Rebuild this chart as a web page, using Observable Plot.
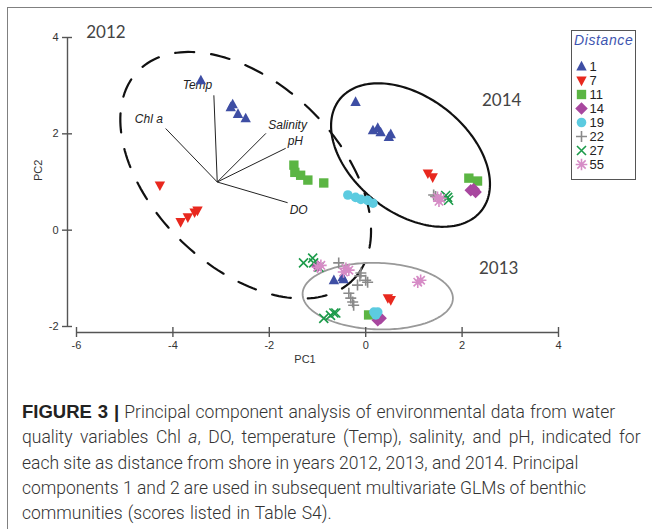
<!DOCTYPE html>
<html><head><meta charset="utf-8">
<script src="https://cdn.jsdelivr.net/npm/d3@7"></script>
<script src="https://cdn.jsdelivr.net/npm/@observablehq/plot@0.6"></script>
<style>
body{margin:0;background:#fff;}
#wrap{position:relative;width:652px;height:529px;overflow:hidden;font-family:"Liberation Sans",Arial,sans-serif;background:#fff;}
#frame{position:absolute;left:7px;top:7px;width:700px;height:600px;border-left:1.5px solid #808080;border-top:1.5px solid #808080;}
#chart{position:absolute;left:0;top:0;}
#legend{position:absolute;left:571px;top:30px;width:65px;height:150px;border:1px solid #555;background:#fff;box-sizing:border-box;}
#legend .title{position:absolute;left:2px;top:1px;font-style:italic;color:#3e55b0;font-size:14px;letter-spacing:0.6px;white-space:nowrap;}
#legend .lp{position:absolute;left:0;top:0;}
#caption{position:absolute;left:22px;top:399px;font-family:Roboto,"Liberation Sans",sans-serif;font-weight:300;font-size:17.5px;line-height:25.3px;color:#333;white-space:nowrap;}
#caption b{font-family:"Liberation Sans",Arial,sans-serif;font-weight:700;color:#222;font-size:18.5px;}
#caption div:nth-child(1){word-spacing:0.8px;}
#caption div:nth-child(2){word-spacing:3.2px;}
#caption div:nth-child(5){word-spacing:1px;}
</style>
</head><body>
<div id="wrap">
  <div id="frame"></div>
  <div id="chart"></div>
  <div id="legend"><div class="title">Distance</div><div class="lp"></div></div>
  <div id="caption"></div>
</div>
<script>
// ---- data ----
const xTicks = [-6, -4, -2, 0, 2, 4];
const yTicks = [-2, 0, 2, 4];
const distances = [1, 7, 11, 14, 19, 22, 27, 55];

const dist1 = [[-3.42,3.11],[-2.76,2.61],[-2.80,2.55],[-2.65,2.41],[-2.49,2.32],
  [-0.21,2.66],[0.15,2.07],[0.25,2.12],[0.31,2.03],[0.52,1.99],[0.48,1.93],
  [-0.66,-1.04],[-0.48,-0.98],[-0.46,-1.02]];
const dist7 = [[-4.27,0.93],[-3.84,0.17],[-3.69,0.27],[-3.55,0.37],[-3.49,0.41],
  [1.29,1.18],[1.39,1.10],[0.46,-1.41],[0.52,-1.45]];
const dist11 = [[-1.49,1.35],[-1.47,1.20],[-1.35,1.14],[-1.20,1.04],[-0.87,0.98],
  [2.14,1.08],[2.32,1.02],[0.06,-1.76]];
const dist14 = [[2.18,0.83],[2.28,0.79],[2.24,0.85],[0.25,-1.87],[0.31,-1.83],[-1.00,-0.75]];
const dist19 = [[-0.37,0.73],[-0.21,0.68],[-0.10,0.64],[0.04,0.62],[0.15,0.56],
  [0.17,-1.70],[0.25,-1.70],[0.21,-1.76]];
const dist22 = [[1.41,0.73],[1.45,0.70],[-0.56,-0.68],[-0.10,-0.89],[-0.12,-0.95],[0.00,-1.04],[0.04,-1.08],
  [-0.17,-1.14],[-0.35,-1.31],[-0.31,-1.41],[-0.27,-1.49],[-0.25,-1.56]];
const dist27 = [[1.70,0.68],[1.72,0.62],[1.66,0.72],[-1.29,-0.68],[-1.10,-0.58],[-1.08,-0.68],[-0.97,-0.77],
  [-0.87,-1.83],[-0.73,-1.77],[-0.66,-1.72],[-0.62,-1.72]];
const dist55 = [[1.49,0.68],[1.56,0.66],[1.52,0.60],[-1.00,-0.77],[-0.93,-0.73],[-0.41,-0.79],[-0.35,-0.83],
  [-0.46,-0.87],[1.08,-1.08],[1.14,-1.04]];

// PCA loading vectors (origin and ends) and label positions
const vecOrigin = [-3.08, 1.00];
const vecNames = ["Temp", "Chl a", "Salinity", "pH", "DO"];
const vecEnds = [[-3.15,2.80],[-4.15,2.11],[-2.07,2.01],[-1.66,1.70],[-1.62,0.57]];
const vecLabels = [[-3.49,3.01],[-4.50,2.30],[-1.62,2.19],[-1.46,1.85],[-1.39,0.41]];

// year groups: ellipse centre, semi-axes, rotation (deg)
const years = ["2012", "2014", "2013"];
const ellCenters = [[-2.49,1.14],[0.93,1.56],[0.25,-1.37]];
const ellAxes = [[3.11,1.91],[1.87,1.20],[1.56,0.69]];
const ellAngles = [-44, -38, -2];
const yearLabelPos = [[-5.39,4.11],[2.82,2.70],[2.76,-0.79]];

const captionLines = [
  ["FIGURE 3 |", " Principal component analysis of environmental data from water"],
  ["", "quality variables Chl <i>a</i>, DO, temperature (Temp), salinity, and pH, indicated for"],
  ["", "each site as distance from shore in years 2012, 2013, and 2014. Principal"],
  ["", "components 1 and 2 are used in subsequent multivariate GLMs of benthic"],
  ["", "communities (scores listed in Table S4)."]
];

// ---- symbols ----
const R = s => Math.sqrt(s / Math.PI);
const triUp = {draw(c, s){const r=R(s); c.moveTo(0,-1.1*r); c.lineTo(r,0.75*r); c.lineTo(-r,0.75*r); c.closePath();}};
const triDown = {draw(c, s){const r=R(s); c.moveTo(0,1.1*r); c.lineTo(r,-0.75*r); c.lineTo(-r,-0.75*r); c.closePath();}};
const square = {draw(c, s){const r=R(s)*0.9; c.rect(-r,-r,2*r,2*r);}};
const diamond = {draw(c, s){const r=R(s)*1.25; c.moveTo(0,-r); c.lineTo(r,0); c.lineTo(0,r); c.lineTo(-r,0); c.closePath();}};
const circle = {draw(c, s){const r=R(s); c.moveTo(r,0); c.arc(0,0,r,0,2*Math.PI);}};
const plus = {draw(c, s){const r=R(s); c.moveTo(-r,0); c.lineTo(r,0); c.moveTo(0,-r); c.lineTo(0,r);}};
const times = {draw(c, s){const r=R(s)*0.75; c.moveTo(-r,-r); c.lineTo(r,r); c.moveTo(-r,r); c.lineTo(r,-r);}};
const aster = {draw(c, s){const r=R(s), q=r*0.72; c.moveTo(-r,0); c.lineTo(r,0); c.moveTo(0,-r); c.lineTo(0,r);
  c.moveTo(-q,-q); c.lineTo(q,q); c.moveTo(-q,q); c.lineTo(q,-q);}};

const series = [
  {pts: dist1,  symbol: triUp,   color: "#3e4ea4", filled: true,  r: 5.2},
  {pts: dist7,  symbol: triDown, color: "#e8281e", filled: true,  r: 5.2},
  {pts: dist11, symbol: square,  color: "#5bb543", filled: true,  r: 5.2},
  {pts: dist14, symbol: diamond, color: "#a8479f", filled: true,  r: 5.0},
  {pts: dist19, symbol: circle,  color: "#5ccbe0", filled: true,  r: 4.8},
  {pts: dist22, symbol: plus,    color: "#8a8a8a", filled: false, r: 5.5},
  {pts: dist27, symbol: times,   color: "#1c9b4a", filled: false, r: 6.0},
  {pts: dist55, symbol: aster,   color: "#d68cc6", filled: false, r: 5.8}
];

function ellipsePoints(i) {
  const [cx, cy] = ellCenters[i], [a, b] = ellAxes[i], th = ellAngles[i] * Math.PI / 180;
  return d3.range(0, 360, 2).map(t => {
    const u = t * Math.PI / 180;
    return {x: cx + a*Math.cos(u)*Math.cos(th) - b*Math.sin(u)*Math.sin(th),
            y: cy + a*Math.cos(u)*Math.sin(th) + b*Math.sin(u)*Math.cos(th)};
  });
}
const ellStyles = [
  {stroke: "#111", strokeWidth: 2.2, strokeDasharray: "19,17"},
  {stroke: "#111", strokeWidth: 2.2},
  {stroke: "#999", strokeWidth: 1.8}
];

const vectors = vecNames.map((n, i) => ({name: n, x1: vecOrigin[0], y1: vecOrigin[1],
  x2: vecEnds[i][0], y2: vecEnds[i][1], lx: vecLabels[i][0], ly: vecLabels[i][1]}));
const yearLabels = years.map((y, i) => ({year: y, x: yearLabelPos[i][0], y: yearLabelPos[i][1]}));

const marks = [
  ...years.map((y, i) => Plot.line(ellipsePoints(i), {x: "x", y: "y", curve: "linear-closed", ...ellStyles[i]})),
  Plot.link(vectors, {x1: "x1", y1: "y1", x2: "x2", y2: "y2", stroke: "#222", strokeWidth: 1}),
  Plot.text(vectors, {x: "lx", y: "ly", text: "name", fontStyle: "italic", fontSize: 12, fill: "#222", letterSpacing: 0.8}),
  Plot.text(yearLabels, {x: "x", y: "y", text: "year", fontSize: 17, fill: "#444", fontFamily: "Lato, 'Open Sans', sans-serif"}),
  ...series.map(s => Plot.dot(s.pts, {x: d => d[0], y: d => d[1], symbol: s.symbol, r: s.r,
    fill: s.filled ? s.color : "none", stroke: s.filled ? "none" : s.color, strokeWidth: s.filled ? 0 : 1.6})),
  // axes
  Plot.ruleX([xTicks[0]], {y1: yTicks[0], y2: yTicks[yTicks.length-1], dx: -9, stroke: "#555", strokeWidth: 1.4}),
  Plot.ruleY([yTicks[0]], {x1: xTicks[0], x2: xTicks[xTicks.length-1], dy: 6, stroke: "#555", strokeWidth: 1.4}),
  Plot.axisY(yTicks, {tickSize: 10, dx: 5, tickPadding: 4, fontSize: 11, stroke: "#555", strokeWidth: 1.4, fill: "#333", label: null,
     tickFormat: d => String(d)}),
  Plot.axisX(xTicks, {tickSize: 10, dy: -5, tickPadding: 4, fontSize: 11, stroke: "#555", strokeWidth: 1.4, fill: "#333", label: null,
     tickFormat: d => String(d)}),
  Plot.text(["PC1"], {frameAnchor: "bottom", dx: -8, dy: 30, fontSize: 11, letterSpacing: 1.5, fill: "#333"}),
  Plot.text(["PC2"], {frameAnchor: "left", rotate: -90, dx: -29, dy: -4, fontSize: 11, letterSpacing: 1.5, fill: "#333"})
];

const chart = Plot.plot({
  width: 652, height: 385,
  marginLeft: 67, insetLeft: 9, marginRight: 94,
  marginTop: 37, marginBottom: 53, insetBottom: 6,
  x: {domain: [xTicks[0], xTicks[xTicks.length-1]]},
  y: {domain: [yTicks[0], yTicks[yTicks.length-1]]},
  style: {fontFamily: "'Liberation Sans', Arial, sans-serif", background: "transparent", overflow: "visible"},
  marks
});
document.getElementById("chart").appendChild(chart);

// legend
const legendRows = distances.map((d, i) => ({label: String(d), ...series[i]}));
const legendPlot = Plot.plot({
  width: 63, height: 148, marginTop: 27, marginBottom: 8, marginLeft: 9, marginRight: 0,
  y: {domain: legendRows.map(d => d.label), type: "point", axis: null},
  style: {fontFamily: "'Liberation Sans', Arial, sans-serif", background: "transparent"},
  marks: [
    ...legendRows.map(s => Plot.dot([s], {y: "label", frameAnchor: "left", symbol: s.symbol, r: s.r,
      fill: s.filled ? s.color : "none", stroke: s.filled ? "none" : s.color, strokeWidth: s.filled ? 0 : 1.6})),
    Plot.text(legendRows, {y: "label", text: "label", frameAnchor: "left", dx: 8, textAnchor: "start", fontSize: 13, fill: "#222"})
  ]
});
document.querySelector("#legend .lp").appendChild(legendPlot);

// caption
document.getElementById("caption").innerHTML = captionLines.map(([b, t]) => `<div>${b ? `<b>${b}</b>` : ""}${t}</div>`).join("");
</script>
</body></html>
